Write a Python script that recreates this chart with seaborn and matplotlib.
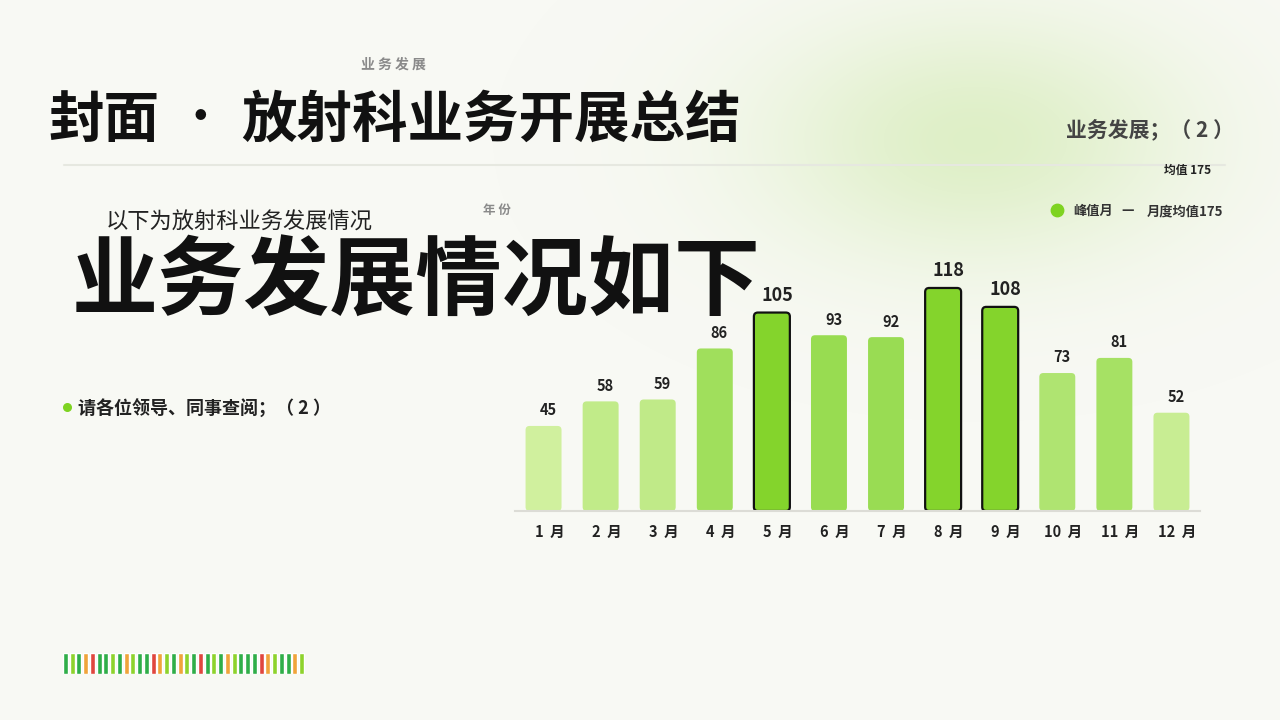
import numpy as np
import pandas as pd
import matplotlib
matplotlib.use("Agg")
import matplotlib.pyplot as plt
import seaborn as sns
from matplotlib.colors import LinearSegmentedColormap, Normalize
from matplotlib.patches import FancyBboxPatch

# 月度业务量
months = ['1 月', '2 月', '3 月', '4 月', '5 月', '6 月',
          '7 月', '8 月', '9 月', '10 月', '11 月', '12 月']
volumes = [45, 58, 59, 86, 105, 93, 92, 118, 108, 73, 81, 52]
peak_months = ['5 月', '8 月', '9 月']

# 底部装饰条颜色
stripe_colors = ['dg', 'lg', 'dg', 'or', 'rd', 'dg', 'dg', 'lg', 'dg', 'or', 'lg', 'dg',
                 'dg', 'rd', 'or', 'lg', 'dg', 'or', 'lg', 'dg', 'rd', 'dg', 'lg', 'dg',
                 'or', 'lg', 'dg', 'dg', 'dg', 'rd', 'or', 'lg', 'dg', 'dg', 'or', 'lg']
stripe_map = {'dg': '#2fae48', 'lg': '#8ed32c', 'or': '#f0a43a', 'rd': '#e0463e'}

BG = '#f8f9f4'
W, H = 1280, 720

sns.set_theme(style='white')
plt.rcParams['font.family'] = ['Noto Sans CJK SC', 'DejaVu Sans']

fig = plt.figure(figsize=(12.8, 7.2), dpi=100, facecolor=BG)

# 背景光晕
bg = fig.add_axes([0, 0, 1, 1])
bg.set_xlim(0, W)
bg.set_ylim(H, 0)
bg.axis('off')
yy, xx = np.mgrid[0:H, 0:W]
d = ((xx - 975) / 240.0) ** 2 + ((yy - 140) / 140.0) ** 2
alpha = np.clip(np.exp(-d * 1.3), 0, 1) * 0.75
glow = np.zeros((H, W, 4))
glow[..., 0] = 0xd6 / 255
glow[..., 1] = 0xec / 255
glow[..., 2] = 0xb8 / 255
glow[..., 3] = alpha
bg.imshow(glow, extent=(0, W, H, 0), aspect='auto', zorder=0)
bg.plot([64, 1225], [165, 165], color='#e6e8e0', lw=1.5, zorder=1)


def px(x, y):
    return x / W, 1 - y / H


def txt(x, y, s, **kw):
    fig.text(*px(x, y), s, **kw)


txt(361, 65, '业 务 发 展', fontsize=10, fontweight='bold', color='#8a8a8a', va='center')
txt(48, 121, '封面', fontsize=40, fontweight='bold', color='#111111', va='center')
txt(200, 119, '·', fontsize=30, fontweight='bold', color='#111111', va='center', ha='center')
txt(241, 121, '放射科业务开展总结', fontsize=40, fontweight='bold', color='#111111', va='center')
txt(1234, 129, '业务发展；（ 2 ）', fontsize=15, fontweight='bold', color='#444444', va='center', ha='right')
txt(1211, 170, '均值 175', fontsize=8.5, fontweight='bold', color='#222222', va='center', ha='right')
txt(106, 222, '以下为放射科业务发展情况', fontsize=16, color='#222222', va='center')
txt(483, 210, '年 份', fontsize=9, fontweight='bold', color='#8a8a8a', va='center')
txt(72, 283, '业务发展情况如下', fontsize=62, fontweight='bold', color='#111111', va='center')
txt(78, 409, '请各位领导、同事查阅；（ 2 ）', fontsize=13, fontweight='bold', color='#222222', va='center')
bg.scatter([67], [407], s=30, color='#7ed321', zorder=3)

# 图例
bg.scatter([1057], [210], s=80, color='#7ed321', zorder=3)
txt(1073, 211, '峰值月', fontsize=9.5, fontweight='bold', color='#333333', va='center')
txt(1121, 210, '—', fontsize=10, fontweight='bold', color='#333333', va='center')
txt(1147, 211, '月度均值175', fontsize=9.5, fontweight='bold', color='#333333', va='center')

# 柱状图
df = pd.DataFrame({'month': months, 'volume': volumes})
cmap = LinearSegmentedColormap.from_list('g', ['#d0f09e', '#96db4e'])
norm = Normalize(vmin=min(volumes), vmax=95)
palette = {}
for m, v in zip(months, volumes):
    palette[m] = '#84d42c' if m in peak_months else cmap(norm(v))

scale = 1.89
ax = fig.add_axes([515 / W, 1 - 511 / H, 685 / W, 140 * scale / H])
ax.set_facecolor('none')
sns.barplot(data=df, x='month', y='volume', hue='month', palette=palette,
            legend=False, width=0.63, saturation=1, ax=ax)

# 圆角柱子
aspect = (1 / scale) / (1 / 57.1)
for patch, m in zip(list(ax.patches), months):
    x0, y0, w, h = patch.get_x(), patch.get_y(), patch.get_width(), patch.get_height()
    peak = m in peak_months
    rb = FancyBboxPatch((x0, y0), w, h, boxstyle='round,pad=0,rounding_size=0.07',
                        mutation_aspect=aspect, facecolor=patch.get_facecolor(),
                        edgecolor='#111111' if peak else 'none',
                        linewidth=1.6 if peak else 0, zorder=2)
    patch.set_visible(False)
    ax.add_patch(rb)

for i, (m, v) in enumerate(zip(months, volumes)):
    if m in peak_months:
        ax.text(i + 0.1, v + 4, str(v), ha='center', va='bottom', fontsize=13,
                fontweight='bold', color='#222222')
    else:
        ax.text(i + 0.08, v + 4, str(v), ha='center', va='bottom', fontsize=10.5,
                fontweight='bold', color='#222222')

ax.set_xlim(-0.5, 11.5)
ax.set_ylim(0, 140)
ax.set_xlabel('')
ax.set_ylabel('')
ax.set_yticks([])
for s in ['top', 'right', 'left']:
    ax.spines[s].set_visible(False)
ax.spines['bottom'].set_color('#dcdcd6')
ax.spines['bottom'].set_linewidth(1.5)
ax.tick_params(axis='x', length=0, pad=9)
ax.set_xticks(range(len(months)))
ax.set_xticklabels([m.replace(' ', '  ') for m in months])
for lab in ax.get_xticklabels():
    lab.set_fontweight('bold')
    lab.set_fontsize(10.5)
    lab.set_color('#222222')
    lab.set_transform(lab.get_transform() + matplotlib.transforms.ScaledTranslation(0.06, 0, fig.dpi_scale_trans))

# 底部装饰条
sax = fig.add_axes([62 / W, 1 - 674 / H, 243 / W, 21 / H])
sax.set_facecolor('none')
sax.bar(range(len(stripe_colors)), [1] * len(stripe_colors), width=0.75,
        color=[stripe_map[c] for c in stripe_colors])
sax.set_xlim(-0.5, len(stripe_colors) - 0.5)
sax.set_ylim(0, 1)
sax.axis('off')

fig.savefig('out.png', dpi=100, facecolor=BG)
